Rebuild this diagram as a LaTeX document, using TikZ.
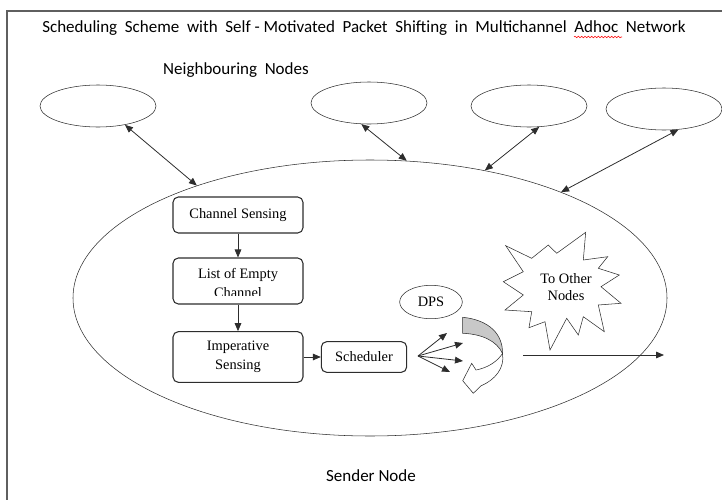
\documentclass[tikz,border=0pt]{standalone}
\usepackage{fontspec}
\setmainfont{Liberation Serif}
\newfontfamily\calibri{Carlito}
\usetikzlibrary{arrows.meta,shapes.geometric,decorations.pathmorphing}

\definecolor{edgegray}{RGB}{45,45,45}
\definecolor{framegray}{RGB}{95,95,95}
\definecolor{bandgray}{RGB}{200,200,200}

\begin{document}
\begin{tikzpicture}[x=0.75pt, y=-0.75pt,
    >={Triangle[length=6pt,width=5pt]},
    nbr/.style={draw=edgegray, ellipse, inner sep=0pt, minimum width=87pt, minimum height=31.5pt},
    stage/.style={draw=edgegray, thick, rounded corners=4pt, minimum width=97.5pt, align=center, font=\fontsize{10.8}{14}\selectfont, inner sep=2pt},
    sanstext/.style={font=\calibri\fontsize{12.75}{15}\selectfont},
    link/.style={<->, edgegray, semithick},
    flow/.style={->, edgegray, semithick}
]
\useasboundingbox (0,0) rectangle (722,500);

% frame
\draw[framegray, line width=1.4pt] (7,500) -- (7,11) -- (722,11);

% headings
\node[sanstext] (title) at (364,28) {Scheduling\ \ Scheme\ \ with\ \ Self - Motivated\ \ Packet\ \ Shifting\ \ in\ \ Multichannel\ \ Adhoc\ \ Network};
\draw[red, decorate, decoration={snake, amplitude=0.6pt, segment length=2.5pt}] (574,37) -- (622,37);
\node[sanstext] (nbcaption) at (236,70) {Neighbouring\ \ Nodes};
\node[sanstext] (sendercaption) at (371,476) {Sender Node};

% neighbouring nodes
\node[nbr] (nbA) at (98,106) {};
\node[nbr] (nbB) at (369,103) {};
\node[nbr] (nbC) at (529,106) {};
\node[nbr] (nbD) at (664,109) {};

% sender node
\node[draw=edgegray, ellipse, inner sep=0pt, minimum width=445.5pt, minimum height=207pt] (sender) at (370,298) {};

\draw[link] (nbA.-35) -- (sender.147);
\draw[link] (nbB.-110) -- (sender.75);
\draw[link] (nbC.-64) -- (sender.48);
\draw[link] (nbD.-55) -- (sender.29);

% stages
\node[stage, minimum height=27pt] (sensing) at (238,215) {Channel Sensing};
\node[stage, minimum height=34.5pt] (emptylist) at (238,281) {};
\begin{scope}
  \clip (173,258) rectangle (303,295.5);
  \node[anchor=base, font=\fontsize{10.8}{14}\selectfont] (emptyA) at (238,278) {List of Empty};
  \node[anchor=base, font=\fontsize{10.8}{14}\selectfont] (emptyB) at (238,297.5) {Channel};
\end{scope}
\node[stage, minimum height=38pt] (imperative) at (238,357) {Imperative\\Sensing};
\node[stage, minimum width=64pt, minimum height=23pt] (scheduler) at (364,357) {Scheduler};

\draw[flow] (sensing) -- (emptylist);
\draw[flow] (emptylist) -- (imperative);
\draw[flow] (imperative) -- (scheduler);

% DPS
\node[draw=edgegray, ellipse, inner sep=0pt, minimum width=47pt, minimum height=25pt, font=\fontsize{10.8}{13}\selectfont] (dps) at (431,302) {DPS};

\coordinate (fan) at (418,356);
\foreach \i/\tx/\ty in {1/447/333, 2/463/343, 3/463/361, 4/450/372} {
  \coordinate (fan\i) at (\tx,\ty);
  \draw[flow] (fan) -- (fan\i);
}

% curved shift arrow
\filldraw[fill=bandgray, draw=edgegray] (462.7,317.3) .. controls (490,320) and (503,335) .. (502.5,353.5)
  .. controls (497,341) and (482,334) .. (462.7,333.3) -- cycle;
\filldraw[fill=white, draw=edgegray] (502.5,353.5) .. controls (497,362) and (487,368) .. (476,370)
  -- (471.7,363.3) -- (462.7,380.7) -- (473.3,393.3) -- (480.7,386)
  .. controls (495,380) and (505,368) .. (502.5,353.5) -- cycle;

% to other nodes
\draw[edgegray, fill=white] (505.7,245.7) -- (531.7,258.3) -- (548.3,245) -- (556.7,253.3) -- (585.7,232.3)
  -- (583.3,260) -- (607.7,256.7) -- (598.3,268.3) -- (619.3,275) -- (601,286.7) -- (621,303.3)
  -- (598.3,305) -- (604.3,331.7) -- (583.3,316.7) -- (578.3,335) -- (566.7,318.3) -- (550,350)
  -- (545,321.7) -- (529,327.7) -- (531.7,311.7) -- (505,310) -- (523.3,295) -- (503.3,281.7)
  -- (523.3,271.7) -- cycle;
\node[align=center, font=\fontsize{10.8}{13}\selectfont] (burst) at (566,287) {To Other\\Nodes};

\coordinate (outA) at (523,355);
\coordinate (outB) at (664,355);
\draw[flow] (outA) -- (outB);
\end{tikzpicture}
\end{document}
